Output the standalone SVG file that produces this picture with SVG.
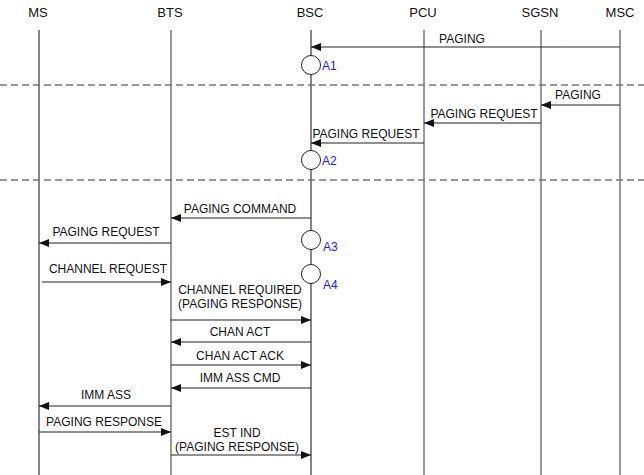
<svg xmlns="http://www.w3.org/2000/svg" width="644" height="475" viewBox="0 0 644 475">
<style>
text{font-family:"Liberation Sans",Arial,sans-serif;font-size:12px;fill:#111}
.hd{font-size:13px;text-anchor:middle}
.lb{text-anchor:middle}
.st{fill:#1a1aff;font-size:12px}
.life{stroke:#333;stroke-width:1.2}
.life2{stroke:#555;stroke-width:1.2}
.sep{stroke:#777;stroke-width:1.5;stroke-dasharray:7,4}
.msg{stroke:#222;stroke-width:1.2;fill:none}
.state{fill:#fff;stroke:#222;stroke-width:1}
</style>
<defs>
<marker id="ah" viewBox="0 0 10 8" refX="10" refY="4" markerWidth="10" markerHeight="8" markerUnits="userSpaceOnUse" orient="auto">
<path d="M0,0 L10,4 L0,8 z" fill="#111"/>
</marker>
</defs>
<rect width="644" height="475" fill="#fff"/>
<g id="MS"><text class="hd" x="38" y="17">MS</text><line class="life" x1="39" y1="30" x2="39" y2="475"/></g>
<g id="BTS"><text class="hd" x="170" y="17">BTS</text><line class="life2" x1="171" y1="30" x2="171" y2="475"/></g>
<g id="BSC"><text class="hd" x="310" y="17">BSC</text><line class="life" x1="311" y1="30" x2="311" y2="475"/></g>
<g id="PCU"><text class="hd" x="423" y="17">PCU</text><line class="life2" x1="424" y1="30" x2="424" y2="475"/></g>
<g id="SGSN"><text class="hd" x="540" y="17">SGSN</text><line class="life2" x1="541" y1="30" x2="541" y2="475"/></g>
<g id="MSC"><text class="hd" x="620" y="17">MSC</text><line class="life2" x1="620" y1="30" x2="620" y2="475"/></g>
<g id="separators">
<line class="sep" x1="0" y1="85" x2="644" y2="85"/>
<line class="sep" x1="0" y1="180" x2="644" y2="180"/>
</g>
<g id="A1"><circle class="state" cx="311" cy="65" r="9.5"/><text class="st" x="322" y="70">A1</text></g>
<g id="A2"><circle class="state" cx="311" cy="160" r="9.5"/><text class="st" x="322" y="165">A2</text></g>
<g id="A3"><circle class="state" cx="311" cy="240" r="9.5"/><text class="st" x="323" y="251">A3</text></g>
<g id="A4"><circle class="state" cx="311" cy="274" r="9.5"/><text class="st" x="323" y="289">A4</text></g>
<g id="connectors">
<line class="msg" x1="620" y1="47" x2="311" y2="47" marker-end="url(#ah)"/>
<line x1="562" y1="47" x2="619" y2="47" stroke="#999" stroke-width="1.2"/>
<text class="lb" x="462" y="43">PAGING</text>
<line class="msg" x1="620" y1="105" x2="541" y2="105" marker-end="url(#ah)"/>
<text class="lb" x="578" y="99">PAGING</text>
<line class="msg" x1="541" y1="123" x2="424" y2="123" marker-end="url(#ah)"/>
<text class="lb" x="484" y="118">PAGING REQUEST</text>
<line class="msg" x1="424" y1="143" x2="311" y2="143" marker-end="url(#ah)"/>
<text class="lb" x="366" y="138">PAGING REQUEST</text>
<line class="msg" x1="311" y1="218" x2="171" y2="218" marker-end="url(#ah)"/>
<text class="lb" x="240" y="213">PAGING COMMAND</text>
<line class="msg" x1="171" y1="243" x2="39" y2="243" marker-end="url(#ah)"/>
<text class="lb" x="106" y="236">PAGING REQUEST</text>
<line class="msg" x1="42" y1="282" x2="171" y2="282" marker-end="url(#ah)"/>
<text class="lb" x="108" y="273">CHANNEL REQUEST</text>
<line class="msg" x1="171" y1="320" x2="311" y2="320" marker-end="url(#ah)"/>
<text class="lb" x="240" y="294">CHANNEL REQUIRED</text>
<text class="lb" x="240" y="308">(PAGING RESPONSE)</text>
<line class="msg" x1="311" y1="342" x2="171" y2="342" marker-end="url(#ah)"/>
<text class="lb" x="240" y="336">CHAN ACT</text>
<line class="msg" x1="171" y1="365" x2="311" y2="365" marker-end="url(#ah)"/>
<text class="lb" x="240" y="360">CHAN ACT ACK</text>
<line class="msg" x1="311" y1="388" x2="171" y2="388" marker-end="url(#ah)"/>
<text class="lb" x="240" y="382">IMM ASS CMD</text>
<line class="msg" x1="171" y1="406" x2="39" y2="406" marker-end="url(#ah)"/>
<text class="lb" x="106" y="399">IMM ASS</text>
<line class="msg" x1="39" y1="432" x2="171" y2="432" marker-end="url(#ah)"/>
<text class="lb" x="104" y="426">PAGING RESPONSE</text>
<line class="msg" x1="171" y1="455" x2="311" y2="455" marker-end="url(#ah)"/>
<text class="lb" x="237" y="437">EST IND</text>
<text class="lb" x="237" y="451">(PAGING RESPONSE)</text>
</g>
</svg>
